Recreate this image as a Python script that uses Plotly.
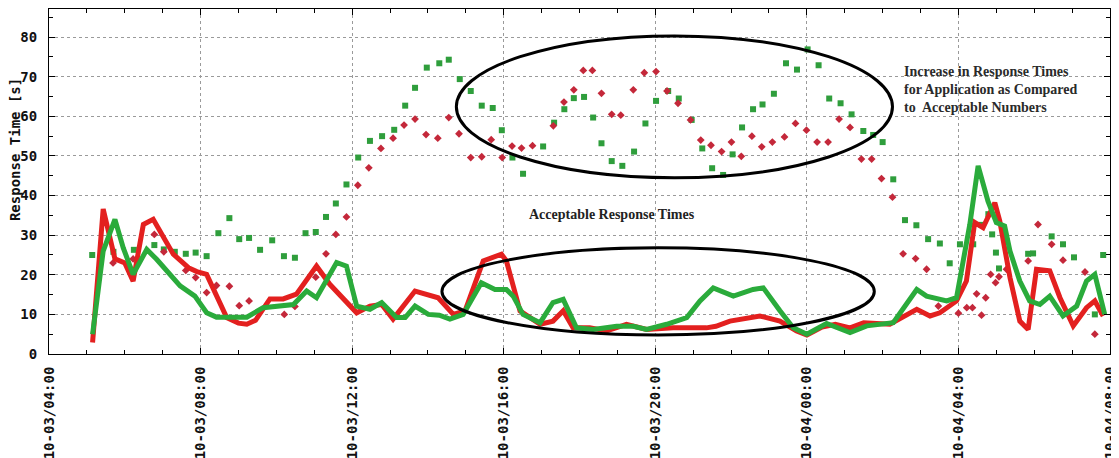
import plotly.graph_objects as go
import pandas as pd

BASE = pd.Timestamp("2012-10-03 04:00")

def to_time(hours):
    return [BASE + pd.Timedelta(hours=h) for h in hours]

# ---- data (hours after 10-03 04:00, response time in s) ----
red_line_h = [1.15, 1.43, 1.74, 2.0, 2.22, 2.49, 2.75, 3.28, 3.68, 3.9, 4.16, 4.69, 5.0, 5.22, 5.45,
              5.83, 6.18, 6.53, 7.06, 7.41, 8.12, 8.47, 8.78, 9.08, 9.66, 10.27, 10.67, 10.98, 11.46,
              11.94, 12.07, 12.43, 12.96, 13.3, 13.57, 13.83, 14.27, 14.71, 15.24, 15.77, 16.47, 17.35,
              17.6, 17.97, 18.76, 19.29, 19.73, 20.0, 20.4, 20.75, 21.14, 21.5, 22.19, 22.9, 23.25,
              23.51, 23.95, 24.21, 24.43, 24.65, 24.96, 25.09, 25.36, 25.62, 25.84, 26.06, 26.41,
              26.68, 27.03, 27.38, 27.6, 27.82]
red_line_v = [2.9, 36.6, 24.0, 23.0, 18.4, 32.7, 34.0, 25.2, 21.8, 20.8, 20.1, 9.2, 7.8, 7.5, 8.5,
              13.9, 13.9, 15.1, 22.2, 17.6, 10.4, 12.1, 12.5, 8.8, 15.9, 14.2, 10.0, 10.9, 23.5,
              25.2, 23.5, 10.9, 7.5, 8.3, 10.9, 6.6, 6.6, 5.8, 7.5, 6.2, 6.6, 6.6,
              7.0, 8.3, 9.6, 8.3, 5.8, 4.8, 6.8, 7.5, 6.6, 7.9, 7.5, 11.3, 9.6,
              10.4, 13.4, 18.4, 33.2, 31.9, 38.2, 33.6, 19.3, 8.3, 6.2, 21.4, 21.0,
              14.2, 7.1, 11.7, 13.4, 9.6]

green_line_h = [1.15, 1.43, 1.74, 1.96, 2.22, 2.58, 2.84, 3.1, 3.46, 3.85, 4.16, 4.42, 4.86, 5.22,
                5.65, 6.01, 6.45, 6.8, 7.06, 7.59, 7.85, 8.12, 8.47, 8.78, 9.17, 9.4, 9.66, 10.01,
                10.3, 10.58, 10.93, 11.41, 11.77, 12.07, 12.25, 12.51, 12.96, 13.3, 13.57, 13.92,
                14.36, 14.98, 15.42, 15.77, 16.3, 16.83, 17.18, 17.53, 18.06, 18.58, 18.85, 19.29,
                19.64, 20.0, 20.52, 21.14, 21.58, 22.28, 22.9, 23.16, 23.69, 23.95, 24.17, 24.3,
                24.52, 24.78, 25.0, 25.22, 25.36, 25.62, 25.88, 26.15, 26.41, 26.76, 27.12, 27.38,
                27.6, 27.86]
green_line_v = [5.0, 26.0, 34.0, 26.8, 20.1, 26.4, 23.9, 21.0, 17.2, 14.6, 10.4, 9.3, 9.3, 9.3,
                11.7, 12.1, 12.5, 15.9, 14.2, 23.1, 22.2, 12.1, 11.3, 13.0, 9.2, 9.2, 12.1, 10.0,
                9.8, 8.8, 10.0, 18.0, 16.3, 16.3, 14.6, 10.0, 7.9, 13.0, 13.8, 6.6,
                6.2, 7.0, 7.0, 6.2, 7.5, 9.2, 13.4, 16.7, 14.6, 16.3, 16.7, 10.9,
                6.6, 5.0, 7.7, 5.4, 7.1, 7.9, 16.3, 14.6, 13.4, 14.2, 26.0, 32.7,
                47.5, 38.6, 33.2, 32.3, 26.0, 18.4, 13.4, 12.5, 14.6, 9.6, 12.1, 18.4,
                20.1, 10.0]

green_pts_h = [1.14, 1.7, 2.24, 2.78, 3.03, 3.32, 3.61, 3.87, 4.16, 4.47, 4.76, 5.02, 5.28, 5.57,
               5.89, 6.2, 6.49, 6.77, 7.04, 7.31, 7.57, 7.85, 8.16, 8.47, 8.79, 9.11, 9.4, 9.66,
               9.97, 10.3, 10.55, 10.84, 11.13, 11.42, 11.71, 11.95, 12.23, 12.51, 13.04, 13.33,
               13.6, 13.85, 14.12, 14.36, 14.58, 14.85, 15.13, 15.44, 15.74, 16.02, 16.34, 16.62,
               16.96, 17.24, 17.5, 17.79, 18.04, 18.29, 18.58, 18.83, 19.13, 19.45, 19.74, 20.02,
               20.31, 20.59, 20.89, 21.18, 21.49, 21.75, 22.0, 22.28, 22.59, 22.89, 23.2, 23.51,
               23.77, 24.04, 24.39, 24.61, 24.79, 24.89, 24.99, 25.07, 25.27, 25.84, 25.97, 26.46,
               26.76, 27.05, 27.6, 27.82]
green_pts_v = [25.0, 25.8, 26.3, 27.5, 26.4, 25.8, 25.3, 25.6, 24.7, 30.5, 34.3, 29.0, 29.3, 26.3,
               28.7, 24.7, 24.3, 30.5, 30.8, 34.6, 38.0, 42.8, 49.6, 53.8, 55.0, 56.6, 62.7, 67.2,
               72.3, 73.4, 74.3, 69.4, 66.4, 62.7, 62.1, 56.5, 49.6, 45.5, 52.4, 58.4,
               61.8, 64.6, 64.9, 59.7, 53.2, 48.7, 47.5, 51.1, 58.2, 63.9, 66.4, 64.5,
               59.1, 51.9, 46.9, 45.2, 50.4, 57.2, 61.8, 63.0, 65.7, 73.4, 71.8, 76.9,
               72.9, 64.5, 63.3, 60.5, 56.3, 55.3, 53.5, 44.1, 33.8, 32.5, 29.0, 27.9,
               22.9, 27.7, 27.7, 32.6, 35.3, 30.2, 25.6, 21.6, 28.5, 25.3, 25.4, 29.7,
               27.7, 24.4, 10.0, 25.0]

red_pts_h = [1.69, 2.22, 2.78, 3.03, 3.61, 3.87, 4.16, 4.42, 4.76, 5.02, 5.28, 6.21, 6.49, 7.04,
             7.31, 7.57, 7.85, 8.15, 8.44, 8.76, 9.08, 9.37, 9.66, 9.95, 10.26, 10.55, 10.82,
             11.13, 11.42, 11.67, 11.96, 12.22, 12.47, 12.76, 13.31, 13.59, 13.85, 14.1, 14.34,
             14.58, 14.85, 15.09, 15.42, 15.71, 16.02, 16.31, 16.6, 16.93, 17.2, 17.47, 17.75,
             18.01, 18.27, 18.55, 18.81, 19.09, 19.41, 19.7, 19.99, 20.27, 20.56, 20.85, 21.14,
             21.44, 21.71, 21.97, 22.26, 22.54, 22.87, 23.16, 23.47, 24.0, 24.22, 24.37, 24.48,
             24.61, 24.72, 24.85, 24.98, 25.07, 25.27, 25.84, 26.1, 26.46, 26.76, 27.34, 27.6]
red_pts_v = [23.0, 24.0, 30.2, 25.8, 21.1, 19.3, 15.5, 17.3, 17.1, 12.2, 13.4, 10.0, 12.0, 19.4,
             25.3, 30.2, 34.6, 42.6, 47.0, 51.9, 54.5, 57.8, 59.3, 55.4, 54.5, 59.7, 55.6,
             49.6, 49.8, 54.1, 49.6, 52.5, 52.0, 52.6, 57.6, 63.6, 66.7, 71.6, 71.6,
             65.8, 60.5, 60.3, 66.7, 71.0, 71.3, 66.4, 63.3, 59.1, 54.0, 52.7, 51.1,
             53.5, 49.9, 55.0, 52.3, 53.5, 54.8, 58.2, 56.5, 53.5, 53.5, 59.3, 57.2,
             49.2, 49.2, 44.3, 39.6, 25.3, 24.1, 21.4, 12.1, 10.3, 11.7, 11.7, 15.2,
             9.8, 14.2, 20.1, 18.0, 19.5, 21.4, 23.5, 32.7, 27.7, 23.7, 20.7, 5.0]

# annotation ellipses (hours, seconds)
upper_ellipse = dict(h0=10.75, h1=22.26, v0=44.5, v1=80.3)
lower_ellipse = dict(h0=10.37, h1=21.78, v0=4.8, v1=26.8)

RED = "#e3201f"
GREEN = "#2aab3b"
MONO = "DejaVu Sans Mono"
SERIF = "Liberation Serif"

fig = go.Figure()
fig.add_trace(go.Scatter(x=to_time(green_pts_h), y=green_pts_v, mode="markers",
                         marker=dict(symbol="square", size=6, color="#2f9e3c", line=dict(width=0)),
                         showlegend=False, hoverinfo="skip"))
fig.add_trace(go.Scatter(x=to_time(red_pts_h), y=red_pts_v, mode="markers",
                         marker=dict(symbol="diamond", size=6, color="#c4283a", line=dict(width=0)),
                         showlegend=False, hoverinfo="skip"))
fig.add_trace(go.Scatter(x=to_time(red_line_h), y=red_line_v, mode="lines",
                         line=dict(color=RED, width=5), showlegend=False))
fig.add_trace(go.Scatter(x=to_time(green_line_h), y=green_line_v, mode="lines",
                         line=dict(color=GREEN, width=5), showlegend=False))

for e in (upper_ellipse, lower_ellipse):
    fig.add_shape(type="circle", xref="x", yref="y",
                  x0=to_time([e["h0"]])[0], x1=to_time([e["h1"]])[0], y0=e["v0"], y1=e["v1"],
                  line=dict(color="black", width=3), layer="above")

fig.add_annotation(x=to_time([14.87])[0], y=35.3, xref="x", yref="y", showarrow=False,
                   text="Acceptable Response Times",
                   font=dict(family=SERIF, size=14, color="#222222", weight="bold"))
fig.add_annotation(x=to_time([22.52])[0], y=66.8, xref="x", yref="y", showarrow=False,
                   xanchor="left", yanchor="middle", align="left",
                   text="Increase in Response Times<br>for Application as Compared<br>to  Acceptable Numbers",
                   font=dict(family=SERIF, size=14, color="#2a2a2a", weight="bold"))
fig.add_annotation(x=-0.032, y=51.5, xref="paper", yref="y", showarrow=False, textangle=-90,
                   xanchor="center", yanchor="middle",
                   text="Response Time [s]",
                   font=dict(family=MONO, size=14, color="#111111", weight="bold"))

fig.update_xaxes(
    type="date", range=[BASE, BASE + pd.Timedelta(hours=28)], automargin=False,
    tick0=BASE, dtick=4 * 3600 * 1000, tickformat="%m-%d/%H:%M", tickangle=-90,
    ticks="inside", ticklen=6, tickcolor="black", ticklabelstandoff=6,
    tickfont=dict(family=MONO, size=14, color="#111111", weight="bold"),
    showline=True, linecolor="black", linewidth=1, mirror="allticks",
    showgrid=True, gridcolor="#9a9a9a", griddash="dot", gridwidth=1, zeroline=False,
    minor=dict(dtick=3600 * 1000, ticks="inside", ticklen=4, tickcolor="black", showgrid=False),
)
fig.update_yaxes(
    range=[0, 87.1], dtick=10, tick0=0, automargin=False,
    ticks="inside", ticklen=6, tickcolor="black", ticklabelstandoff=8,
    tickfont=dict(family=MONO, size=14, color="#111111", weight="bold"),
    showline=True, linecolor="black", linewidth=1, mirror="allticks",
    showgrid=True, gridcolor="#9a9a9a", griddash="dot", gridwidth=1, zeroline=False,
    minor=dict(dtick=5, ticks="inside", ticklen=4, tickcolor="black", showgrid=False),
)
# the page body has an 8px margin, so the figure is sized/offset to compensate
fig.update_layout(
    width=1111, height=450, margin=dict(l=41, r=9, t=1, b=104),
    paper_bgcolor="white", plot_bgcolor="white", showlegend=False,
)
fig.write_html("out.html")
